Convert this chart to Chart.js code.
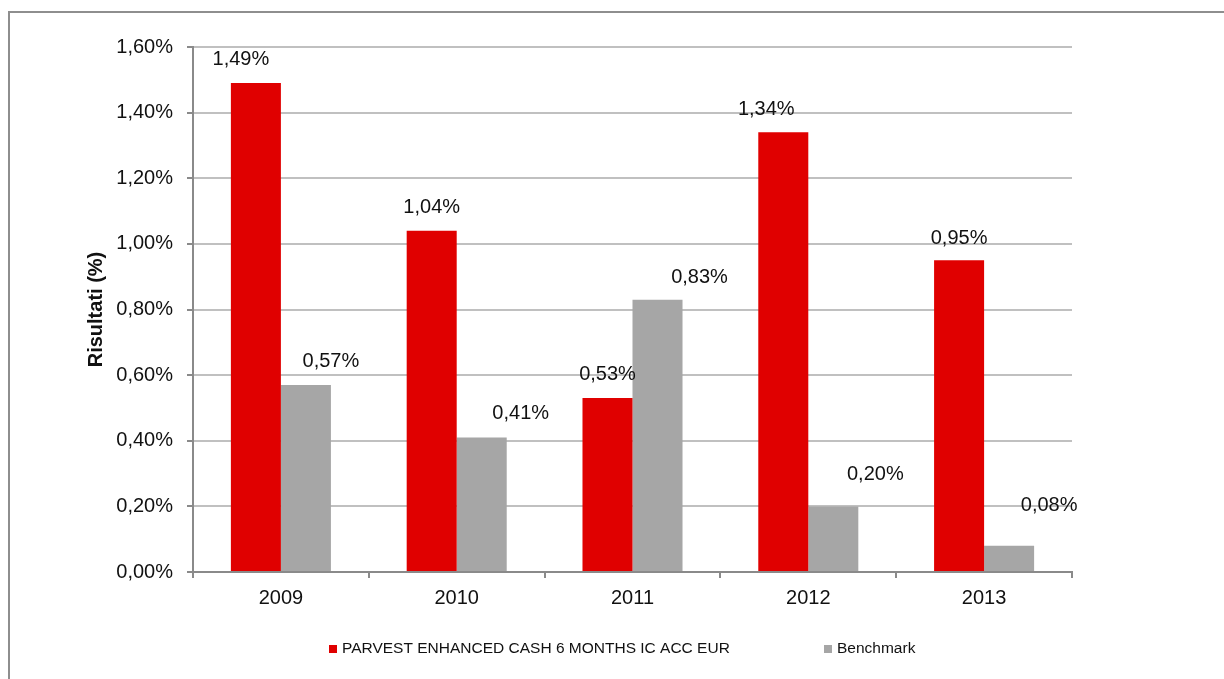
<!DOCTYPE html>
<html>
<head>
<meta charset="utf-8">
<title>Risultati</title>
<script src="https://cdn.jsdelivr.net/npm/chart.js@4.4.1/dist/chart.umd.min.js"></script>
<style>
  html, body { margin: 0; padding: 0; background: #fff; overflow: hidden; }
  #wrap { position: relative; width: 1224px; height: 679px; }
  #frame {
    position: absolute; left: 8px; top: 11px; width: 1300px; height: 800px;
    border-left: 2px solid #8e8e8e; border-top: 2px solid #8e8e8e;
  }
  #resultsChart { position: absolute; left: 0; top: 0; }
</style>
</head>
<body>
<div id="wrap">
  <div id="frame"></div>
  <canvas id="resultsChart" width="1224" height="679"></canvas>
</div>
<script>
const years = ["2009", "2010", "2011", "2012", "2013"];
const fundValues = [1.49, 1.04, 0.53, 1.34, 0.95];
const benchValues = [0.57, 0.41, 0.83, 0.20, 0.08];
const seriesNames = ["PARVEST ENHANCED CASH 6 MONTHS IC ACC EUR", "Benchmark"];
const seriesColors = ["#E00000", "#A6A6A6"];
const yMax = 1.6;
const yStep = 0.2;

// nudges for the value labels (px, from the top centre of each bar)
const labelShift = [
  [[-15, -24], [0, -23], [0, -24], [-17, -23], [0, -22]],
  [[25, -23], [39, -24], [42, -22], [42, -32], [40, -40]]
];

const fmt = v => v.toFixed(2).replace(".", ",") + "%";
const FONT = "'Liberation Sans', Arial, sans-serif";

// value labels above bars
const valueLabels = {
  id: "valueLabels",
  afterDatasetsDraw(chart) {
    const ctx = chart.ctx;
    ctx.save();
    ctx.font = "20px " + FONT;
    ctx.fillStyle = "#111";
    ctx.textAlign = "center";
    ctx.textBaseline = "middle";
    chart.data.datasets.forEach((ds, i) => {
      chart.getDatasetMeta(i).data.forEach((bar, j) => {
        const s = labelShift[i][j];
        ctx.fillText(fmt(ds.data[j]), bar.x + s[0], bar.y + s[1]);
      });
    });
    ctx.restore();
  }
};

// legend drawn like the Excel one (small squares, wide gap between items)
const legendX = [329, 824];
const bottomLegend = {
  id: "bottomLegend",
  afterDraw(chart) {
    const ctx = chart.ctx;
    ctx.save();
    ctx.font = "15.5px " + FONT;
    ctx.textBaseline = "middle";
    ctx.fillStyle = "#111";
    chart.data.datasets.forEach((ds, i) => {
      const x = legendX[i];
      ctx.fillStyle = ds.backgroundColor;
      ctx.fillRect(x, 645, 8, 8);
      ctx.fillStyle = "#111";
      ctx.fillText(ds.label, x + 13, 649);
    });
    ctx.restore();
  }
};

new Chart(document.getElementById("resultsChart").getContext("2d"), {
  type: "bar",
  data: {
    labels: years,
    datasets: [
      { label: seriesNames[0], data: fundValues, backgroundColor: seriesColors[0] },
      { label: seriesNames[1], data: benchValues, backgroundColor: seriesColors[1] }
    ]
  },
  options: {
    responsive: false,
    animation: false,
    layout: { padding: { top: 47, right: 152, left: 0, bottom: 0 } },
    datasets: {
      bar: { categoryPercentage: 0.569, barPercentage: 1.0, borderWidth: 0 }
    },
    plugins: {
      legend: { display: false },
      tooltip: { enabled: false }
    },
    scales: {
      x: {
        afterFit: s => { s.height = 107; },
        grid: {
          offset: true,
          drawOnChartArea: false,
          drawTicks: true,
          tickLength: 6,
          color: "#8a8a8a",
          lineWidth: 2
        },
        border: { color: "#8a8a8a", width: 2 },
        ticks: {
          color: "#111",
          padding: 8,
          font: { family: FONT, size: 20 }
        }
      },
      y: {
        min: 0,
        max: yMax,
        afterFit: s => { s.width = 193; },
        grid: {
          color: "#c0c0c0",
          lineWidth: 2,
          tickColor: "#8a8a8a",
          tickLength: 6
        },
        border: { color: "#8a8a8a", width: 2 },
        ticks: {
          stepSize: yStep,
          padding: 14,
          color: "#111",
          font: { family: FONT, size: 20 },
          callback: v => fmt(v)
        },
        title: {
          display: true,
          text: "Risultati (%)",
          color: "#111",
          padding: { top: 84, bottom: 0 },
          font: { family: FONT, size: 20, weight: "bold" }
        }
      }
    }
  },
  plugins: [valueLabels, bottomLegend]
});
</script>
</body>
</html>
